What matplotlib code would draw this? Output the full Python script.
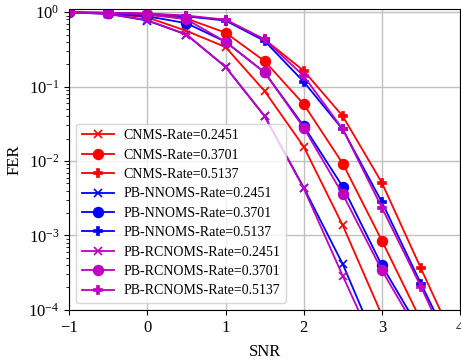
import numpy as np
import matplotlib
matplotlib.use("Agg")
import matplotlib.pyplot as plt

plt.rcParams['font.family'] = ['Liberation Serif', 'DejaVu Serif']
plt.rcParams['mathtext.fontset'] = 'stix'

# SNR points
snr = [-1, -0.5, 0, 0.5, 1, 1.5, 2, 2.5, 3, 3.5, 4]

# FER values
cnms_2451 = [0.99, 0.96, 0.85, 0.56, 0.34, 0.087, 0.0156, 0.00136, 8.5e-5]
cnms_3701 = [0.99, 0.97, 0.92, 0.82, 0.53, 0.22, 0.058, 0.0092, 8.5e-4, 7.2e-5]
cnms_5137 = [0.99, 0.98, 0.95, 0.88, 0.79, 0.43, 0.163, 0.040, 0.0051, 3.6e-4, 2.6e-5]

nnoms_2451 = [0.99, 0.95, 0.77, 0.50, 0.184, 0.040, 0.0044, 4.1e-4, 2.4e-5]
nnoms_3701 = [0.99, 0.96, 0.88, 0.71, 0.40, 0.155, 0.0295, 0.0045, 3.95e-4, 5.1e-5]
nnoms_5137 = [0.99, 0.98, 0.94, 0.88, 0.77, 0.41, 0.116, 0.0265, 0.0028, 2.24e-4, 1.9e-5]

rcnoms_2451 = [0.99, 0.95, 0.78, 0.50, 0.184, 0.040, 0.0043, 2.85e-4, 2.0e-5]
rcnoms_3701 = [0.99, 0.97, 0.94, 0.80, 0.40, 0.155, 0.028, 0.00356, 3.4e-4, 4.3e-5]
rcnoms_5137 = [0.99, 0.98, 0.96, 0.90, 0.79, 0.43, 0.139, 0.0267, 0.00236, 2.04e-4, 1.5e-5]

series = [
    ("CNMS-Rate=0.2451", cnms_2451, 'r', 'x'),
    ("CNMS-Rate=0.3701", cnms_3701, 'r', 'o'),
    ("CNMS-Rate=0.5137", cnms_5137, 'r', 'P'),
    ("PB-NNOMS-Rate=0.2451", nnoms_2451, 'b', 'x'),
    ("PB-NNOMS-Rate=0.3701", nnoms_3701, 'b', 'o'),
    ("PB-NNOMS-Rate=0.5137", nnoms_5137, 'b', 'P'),
    ("PB-RCNOMS-Rate=0.2451", rcnoms_2451, 'm', 'x'),
    ("PB-RCNOMS-Rate=0.3701", rcnoms_3701, 'm', 'o'),
    ("PB-RCNOMS-Rate=0.5137", rcnoms_5137, 'm', 'P'),
]

fig = plt.figure(figsize=(4.61, 3.62), dpi=100)
ax = fig.add_axes([0.150, 0.144, 0.848, 0.831])

for label, vals, color, marker in series:
    ms = {'x': 6, 'o': 7, 'P': 5.5}[marker]
    ax.semilogy(snr[:len(vals)], vals, color=color, marker=marker,
                markersize=ms, markeredgewidth=1.2, linewidth=1.3,
                label=label)

ax.set_xlim(-1, 4)
ax.set_ylim(1e-4, 1.1)
ax.set_xticks([-1, 0, 1, 2, 3, 4])
ax.grid(True, which='major', color='#c0c0c0', linewidth=1)
ax.tick_params(labelsize=12)

ax.set_xlabel("SNR", fontsize=12, labelpad=6)
ax.set_ylabel("FER", fontsize=12)

ax.legend(loc='lower left', fontsize=10, labelspacing=0.46,
          handlelength=2.3, handletextpad=0.7, borderaxespad=0.5)

plt.savefig("out.png", dpi=100)
